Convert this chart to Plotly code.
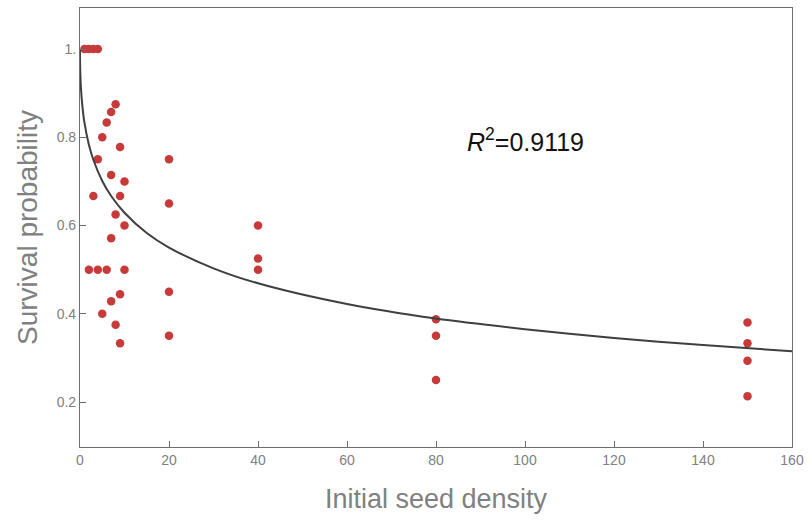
import plotly.graph_objects as go

# Observed survival probabilities by initial seed density
density = [1, 2, 2, 3, 3, 4, 4, 4, 5, 5, 6, 6,
           7, 7, 7, 7, 8, 8, 8, 9, 9, 9, 9, 10, 10, 10,
           20, 20, 20, 20, 40, 40, 40, 80, 80, 80,
           150, 150, 150, 150]
survival = [1.0, 1.0, 0.5, 1.0, 0.6667, 1.0, 0.75, 0.5, 0.8, 0.4, 0.8333, 0.5,
            0.8571, 0.7143, 0.5714, 0.4286, 0.875, 0.625, 0.375,
            0.7778, 0.6667, 0.4444, 0.3333, 0.7, 0.6, 0.5,
            0.75, 0.65, 0.45, 0.35, 0.6, 0.525, 0.5, 0.3875, 0.35, 0.25,
            0.38, 0.3333, 0.2933, 0.2133]

# Fitted curve
fit_x = [0, 0.01, 0.05, 0.2, 0.5, 1, 2, 3, 5, 7, 10, 15, 20, 30, 40,
         60, 80, 100, 120, 140, 160]
fit_y = [1.0, 0.978, 0.953, 0.914, 0.874, 0.833, 0.783, 0.749, 0.701, 0.667,
         0.629, 0.583, 0.550, 0.503, 0.469, 0.422, 0.389, 0.365, 0.345,
         0.329, 0.315]

x_ticks = [0, 20, 40, 60, 80, 100, 120, 140, 160]
y_ticks = [0.2, 0.4, 0.6, 0.8, 1.0]
y_tick_text = ["0.2", "0.4", "0.6", "0.8", "1."]

fig = go.Figure()
fig.add_trace(go.Scatter(x=density, y=survival, mode="markers",
                         marker=dict(color="#c83a3a", size=8.5),
                         showlegend=False, cliponaxis=False))
fig.add_trace(go.Scatter(x=fit_x, y=fit_y, mode="lines",
                         line=dict(color="#3f3f3f", width=2, shape="spline", smoothing=0.8),
                         showlegend=False))

axis_common = dict(showline=True, linecolor="#6e6e6e", linewidth=1.2, mirror=True,
                   ticks="inside", ticklen=6, tickcolor="#6e6e6e", showgrid=False,
                   zeroline=False, automargin=False,
                   tickfont=dict(family="Liberation Sans, Arial, sans-serif", size=14, color="#808080"))

fig.update_xaxes(range=[0, 160], tickvals=x_ticks,
                 title=dict(text="Initial seed density", standoff=22,
                            font=dict(family="Liberation Sans, Arial, sans-serif", size=27, color="#808080")),
                 **axis_common)
fig.update_yaxes(range=[0.098, 1.093], tickvals=y_ticks, ticktext=y_tick_text,
                 title=dict(text="Survival probability", standoff=10,
                            font=dict(family="Liberation Sans, Arial, sans-serif", size=28, color="#808080")),
                 **axis_common)

fig.add_annotation(x=0.625, y=0.70, xref="paper", yref="paper",
                   text="<i>R</i><sup>2</sup>=0.9119", showarrow=False,
                   font=dict(family="Liberation Sans, Arial, sans-serif", size=25, color="#111111"),
                   xanchor="center", yanchor="middle")

fig.update_layout(width=808, height=521, margin=dict(l=80, r=16, t=8, b=74),
                  plot_bgcolor="white", paper_bgcolor="white")

# remove the page's default body margin so the figure fills the window
fig.write_html("out.html", config={"displayModeBar": False},
               post_script="document.body.style.margin='0px';")
